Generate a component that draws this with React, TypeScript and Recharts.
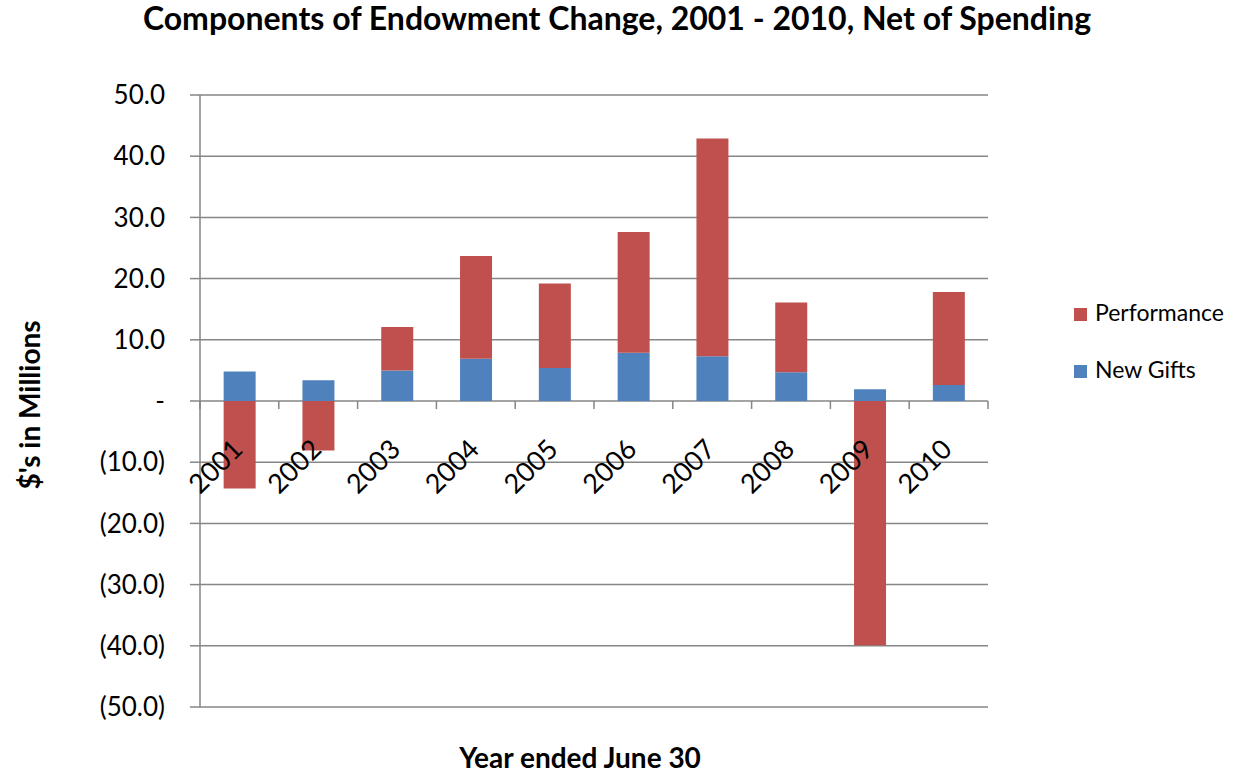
import React from "react";
import { BarChart, Bar, XAxis, YAxis, CartesianGrid, Legend } from "recharts";

const years = ["2001", "2002", "2003", "2004", "2005", "2006", "2007", "2008", "2009", "2010"];
const newGifts = [4.8, 3.4, 5.0, 6.9, 5.4, 7.9, 7.3, 4.7, 1.9, 2.6];
const performance = [-14.3, -8.1, 7.1, 16.8, 13.8, 19.7, 35.6, 11.4, -39.9, 15.2];
const yTicks = [-50, -40, -30, -20, -10, 0, 10, 20, 30, 40, 50];

const data = years.map((year, i) => ({
  year,
  newGifts: newGifts[i],
  performance: performance[i],
}));

const W = 1234;
const H = 776;
const X_AXIS_H = 1;
const MARGIN = { top: 95, right: 246, bottom: 69 - X_AXIS_H, left: 0 };
const Y_AXIS_W = 200;
const Y_MIN = -50;
const Y_MAX = 50;
const PLOT_W = W - MARGIN.left - MARGIN.right - Y_AXIS_W;
const PLOT_H = H - MARGIN.top - MARGIN.bottom - X_AXIS_H;
// distance from bottom of plot up to the zero line
const ZERO_UP = (PLOT_H * (0 - Y_MIN)) / (Y_MAX - Y_MIN);

const FONT = "Lato, 'Open Sans', sans-serif";
const GRID = "#868686";
const RED = "#C0504D";
const BLUE = "#4F81BD";

const fmtY = (v: number) => {
  if (v === 0) return "-";
  const s = Math.abs(v).toFixed(1);
  return v < 0 ? `(${s})` : s;
};

// x axis crosses at zero, so ticks and labels are drawn up there
const YearTick = (props: any) => {
  const { x, y, payload, index } = props;
  const zy = y - ZERO_UP;
  const band = PLOT_W / years.length;
  const tx = x + 5;
  const ty = zy + 50;
  return (
    <g>
      <line x1={x - band / 2} x2={x - band / 2} y1={zy} y2={zy + 8} stroke={GRID} strokeWidth={1.5} />
      {index === years.length - 1 && (
        <line x1={x + band / 2} x2={x + band / 2} y1={zy} y2={zy + 8} stroke={GRID} strokeWidth={1.5} />
      )}
      <text
        x={tx}
        y={ty}
        textAnchor="end"
        transform={`rotate(-45 ${tx} ${ty})`}
        fontSize={27}
        fontFamily={FONT}
        fill="#000"
      >
        {payload.value}
      </text>
    </g>
  );
};

const LegendContent = (props: any) => {
  const items = [...(props.payload ?? [])].reverse();
  return (
    <svg width={170} height={100}>
      {items.map((it: any, i: number) => (
        <g key={it.value}>
          <rect x={4} y={18 + i * 57} width={13} height={13} fill={it.color} />
          <text x={25} y={31 + i * 57} fontSize={23} fontFamily={FONT} fill="#000">
            {it.value}
          </text>
        </g>
      ))}
    </svg>
  );
};

export default function App() {
  return (
    <div style={{ position: "absolute", left: 0, top: 0, width: W, height: H, background: "#fff" }}>
      <div
        style={{
          position: "absolute",
          left: 0,
          top: 2,
          width: W,
          textAlign: "center",
          fontFamily: FONT,
          fontWeight: 700,
          fontSize: 32,
          lineHeight: "32px",
          color: "#000",
          whiteSpace: "nowrap",
        }}
      >
        Components of Endowment Change, 2001 - 2010, Net of Spending
      </div>
      <BarChart
        width={W}
        height={H}
        data={data}
        margin={MARGIN}
        stackOffset="sign"
        barCategoryGap="30%"
      >
        <CartesianGrid vertical={false} stroke={GRID} strokeWidth={1.5} />
        <YAxis
          width={Y_AXIS_W}
          domain={[Y_MIN, Y_MAX]}
          ticks={yTicks}
          tickFormatter={fmtY}
          interval={0}
          tickSize={10}
          tickMargin={25}
          axisLine={{ stroke: GRID, strokeWidth: 1.5 }}
          tickLine={{ stroke: GRID, strokeWidth: 1.5 }}
          tick={{ fontSize: 26, fontFamily: FONT, fill: "#000" }}
          label={{
            content: () => (
              <text
                x={40}
                y={405}
                transform="rotate(-90 40 405)"
                textAnchor="middle"
                fontSize={28}
                fontWeight={700}
                fontFamily={FONT}
                fill="#000"
              >
                $'s in Millions
              </text>
            ),
          }}
        />
        <Bar dataKey="newGifts" name="New Gifts" stackId="a" fill={BLUE} isAnimationActive={false} />
        <Bar dataKey="performance" name="Performance" stackId="a" fill={RED} isAnimationActive={false} />
        <XAxis
          dataKey="year"
          height={X_AXIS_H}
          interval={0}
          axisLine={false}
          tickLine={false}
          tickSize={0}
          tickMargin={0}
          tick={(p: any) => <YearTick {...p} />}
          label={{
            content: () => (
              <text x={580} y={768} textAnchor="middle" fontSize={28} fontWeight={700} fontFamily={FONT} fill="#000">
                Year ended June 30
              </text>
            ),
          }}
        />
        <Legend
          layout="vertical"
          align="center"
          verticalAlign="middle"
          wrapperStyle={{ left: 1070, top: 290, width: 170 }}
          content={<LegendContent />}
        />
      </BarChart>
    </div>
  );
}
